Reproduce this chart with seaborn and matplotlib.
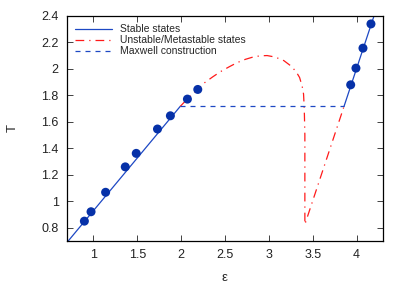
import numpy as np
import pandas as pd
import seaborn as sns
import matplotlib
matplotlib.use("Agg")
import matplotlib.pyplot as plt

# Simulation points (blue dots)
eps_pts = [0.898, 0.974, 1.140, 1.364, 1.489, 1.731, 1.878, 2.072, 2.190,
           3.932, 3.992, 4.072, 4.163]
T_pts = [0.850, 0.921, 1.068, 1.260, 1.362, 1.546, 1.646, 1.772, 1.845,
         1.880, 2.006, 2.157, 2.340]

# Stable branches (solid)
eps_stable_lo = [0.70, 1.99]
T_stable_lo = [0.689, 1.717]
eps_stable_hi = [3.856, 4.20]
T_stable_hi = [1.717, 2.405]

# Unstable / metastable branch (dash-dot)
eps_meta = [1.99, 2.07, 2.19, 2.27, 2.36, 2.45, 2.55, 2.64, 2.73, 2.82, 2.90, 2.98,
            3.07, 3.17, 3.25, 3.31, 3.35, 3.38, 3.395, 3.40, 3.405, 3.41,
            3.41, 3.856]
T_meta = [1.717, 1.772, 1.845, 1.897, 1.940, 1.980, 2.017, 2.048, 2.072, 2.090, 2.099, 2.101,
          2.090, 2.063, 2.023, 1.980, 1.935, 1.867, 1.810, 1.742, 1.650, 1.500,
          0.825, 1.717]

# Maxwell construction (dashed)
eps_maxwell = [1.99, 3.856]
T_maxwell = [1.717, 1.717]

sns.set_theme(style="ticks")
plt.rcParams["font.family"] = ["Liberation Sans", "DejaVu Sans"]

fig = plt.figure(figsize=(4.07, 2.85), dpi=100)
ax = fig.add_axes([0.1646, 0.1544, 0.7764, 0.7895])

line_blue = "#1d48c4"
dot_blue = "#0631a8"

sns.lineplot(x=eps_stable_lo, y=T_stable_lo, ax=ax, color=line_blue, lw=0.9,
             sort=False, estimator=None, label="Stable states")
sns.lineplot(x=eps_meta, y=T_meta, ax=ax, color="#ff1a1a", lw=0.9,
             sort=False, estimator=None, label="Unstable/Metastable states")
ax.lines[-1].set_linestyle((0, (7, 4, 1, 4)))
sns.lineplot(x=eps_maxwell, y=T_maxwell, ax=ax, color=line_blue, lw=0.9,
             sort=False, estimator=None, label="Maxwell construction")
ax.lines[-1].set_linestyle((0, (4, 4)))
sns.lineplot(x=eps_stable_hi, y=T_stable_hi, ax=ax, color=line_blue, lw=0.9,
             sort=False, estimator=None)
sns.scatterplot(x=eps_pts, y=T_pts, ax=ax, color=dot_blue, s=42, edgecolor="none",
                zorder=5)

ax.set_xlim(0.7, 4.3)
ax.set_ylim(0.7, 2.4)
ax.set_xticks([1, 1.5, 2, 2.5, 3, 3.5, 4])
ax.set_xticklabels(["1", "1.5", "2", "2.5", "3", "3.5", "4"])
ax.set_yticks([0.8, 1.0, 1.2, 1.4, 1.6, 1.8, 2.0, 2.2, 2.4])
ax.set_yticklabels(["0.8", "1", "1.2", "1.4", "1.6", "1.8", "2", "2.2", "2.4"])
ax.tick_params(direction="in", top=True, right=True, length=4, width=0.6,
               labelsize=9, pad=6, colors="#222222")
for s in ax.spines.values():
    s.set_linewidth(0.9)
    s.set_color("black")

ax.set_xlabel("ε", fontsize=9.5, labelpad=8)
ax.set_ylabel("T", fontsize=9.5, labelpad=16, rotation=90)

ax.legend(loc="upper left", frameon=False, fontsize=7.5, handlelength=3.5,
          handletextpad=0.8, labelspacing=0.1, borderaxespad=0.4,
          bbox_to_anchor=(0.0, 1.0))

fig.savefig("out.png", dpi=100)
